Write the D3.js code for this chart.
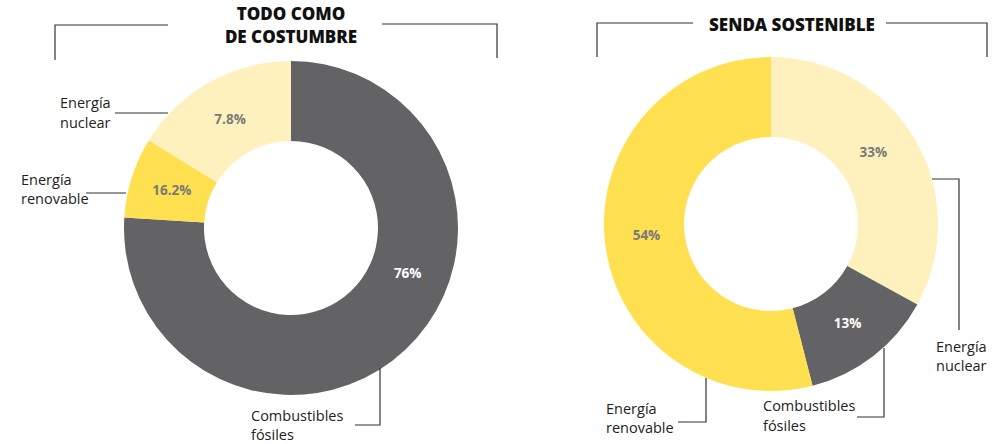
<!DOCTYPE html>
<html>
<head>
<meta charset="utf-8">
<script src="https://cdn.jsdelivr.net/npm/d3@7"></script>
<style>
  body { margin: 0; background: #fff; }
  text { font-family: "Open Sans", sans-serif; }
</style>
</head>
<body>
<script>
(function() {

// categories (same order for both charts)
var categories = ["Combustibles fósiles", "Energía renovable", "Energía nuclear"];

// left chart: wedge sizes as drawn, and the labels printed on them
var leftShares = [76, 7.8, 16.2];
var leftLabels = ["76%", "16.2%", "7.8%"];

// right chart
var rightShares = [13, 54, 33];
var rightLabels = ["13%", "54%", "33%"];

var titles = [["TODO COMO", "DE COSTUMBRE"], ["SENDA SOSTENIBLE"]];

var colors = { "Combustibles fósiles": "#636264", "Energía renovable": "#ffe050", "Energía nuclear": "#fff1bd" },
    labelColors = { "Combustibles fósiles": "#fff", "Energía renovable": "#7a7a7a", "Energía nuclear": "#7a7a7a" };

var width = 999, height = 444,
    r_out = 167, r_in = 87;

var svg = d3.select("body").append("svg")
  .attr("width", width)
  .attr("height", height);

var deg = Math.PI / 180;

// order of wedges clockwise from 12 o'clock
var charts = [
  { cx: 291, cy: 228, shares: leftShares, labels: leftLabels, title: titles[0],
    order: ["Combustibles fósiles", "Energía renovable", "Energía nuclear"],
    tx: 291, ty: [20, 43],
    bracket: [[[55, 60], [55, 25], [168, 25]], [[382, 24], [497, 24], [497, 58]]],
    labelAngle: { "Combustibles fósiles": 111 * deg },
    leaders: [
      { cat: "Energía nuclear", pts: [[168, 113], [115, 113]], x: 60, y: [108, 128] },
      { cat: "Energía renovable", pts: [[126, 193], [86, 193]], x: 21, y: [185, 204] },
      { cat: "Combustibles fósiles", pts: [[380, 368], [380, 425], [355, 425]], x: 251, y: [421, 440] }
    ] },
  { cx: 771, cy: 224, shares: rightShares, labels: rightLabels, title: titles[1],
    order: ["Energía nuclear", "Combustibles fósiles", "Energía renovable"],
    tx: 792, ty: [31],
    bracket: [[[597, 57], [597, 23], [693, 23]], [[886, 23], [987, 23], [987, 57]]],
    labelAngle: { "Energía nuclear": 55 * deg, "Energía renovable": 265 * deg },
    leaders: [
      { cat: "Energía nuclear", pts: [[932, 179], [959, 179], [959, 330]], x: 936, y: [352, 371] },
      { cat: "Combustibles fósiles", pts: [[884, 348], [884, 417], [857, 417]], x: 763, y: [411, 431] },
      { cat: "Energía renovable", pts: [[706, 378], [706, 422], [678, 422]], x: 606, y: [414, 433] }
    ] }
];

var arc = d3.arc().innerRadius(r_in).outerRadius(r_out);

charts.forEach(function(c) {
  var g = svg.append("g").attr("transform", "translate(" + c.cx + "," + c.cy + ")");

  var rows = c.order.map(function(k) {
    var i = categories.indexOf(k);
    return { cat: k, value: c.shares[i], label: c.labels[i] };
  });

  var pie = d3.pie().sort(null).value(function(d) { return d.value; });
  var arcs = pie(rows);

  g.selectAll("path.slice")
    .data(arcs)
    .enter()
    .append("path")
      .attr("class", "slice")
      .attr("d", arc)
      .attr("fill", function(d) { return colors[d.data.cat]; });

  g.selectAll("text.pct")
    .data(arcs)
    .enter()
    .append("text")
      .attr("class", "pct")
      .attr("transform", function(d) {
        var a = c.labelAngle[d.data.cat] !== undefined ? c.labelAngle[d.data.cat] : (d.startAngle + d.endAngle) / 2,
            rr = 125;
        return "translate(" + (rr * Math.sin(a)) + "," + (-rr * Math.cos(a)) + ")";
      })
      .attr("dy", "0.35em")
      .attr("text-anchor", "middle")
      .attr("font-size", 13.5)
      .attr("font-weight", 700)
      .attr("fill", function(d) { return labelColors[d.data.cat]; })
      .text(function(d) { return d.data.label; });

  // title + bracket
  c.title.forEach(function(t, i) {
    svg.append("text")
      .attr("x", c.tx).attr("y", c.ty[i])
      .attr("text-anchor", "middle")
      .attr("font-size", 17)
      .attr("font-weight", 800)
      .attr("fill", "#111")
      .text(t);
  });
  c.bracket.forEach(function(p) {
    svg.append("path")
      .attr("d", d3.line()(p))
      .attr("fill", "none")
      .attr("stroke", "#333")
      .attr("stroke-width", 1.2);
  });

  // leader lines + category names
  c.leaders.forEach(function(l) {
    svg.append("path")
      .attr("d", d3.line()(l.pts))
      .attr("fill", "none")
      .attr("stroke", "#333")
      .attr("stroke-width", 1.2);
    l.cat.split(" ").forEach(function(w, i) {
      svg.append("text")
        .attr("x", l.x).attr("y", l.y[i])
        .attr("font-size", 14.5)
        .attr("fill", "#222")
        .text(w);
    });
  });
});

})();
</script>
</body>
</html>
